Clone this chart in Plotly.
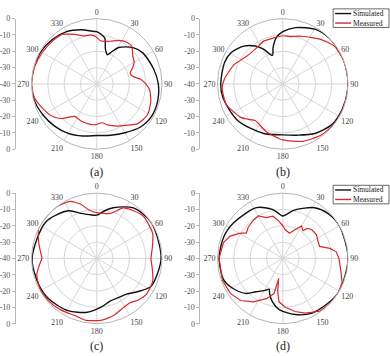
import plotly.graph_objects as go

W, H = 390, 356
FONT = "Liberation Serif"

# ---------------- data (angle in degrees, gain in dB) ----------------
a_sim_theta = [0, 5, 10, 14, 20, 24, 31, 45, 56, 75, 90, 105, 120, 135, 150, 165, 180, 195, 210, 225, 240, 255, 270, 285, 300, 315, 330, 344, 357, 360]
a_sim_r = [-8, -9.5, -11.5, -18, -21, -19, -14, -8.5, -6, -4, -2.3, -1.3, -1, -2.5, -5.5, -7.5, -8.4, -7, -5, -3.5, -2, -0.5, 0, -0.3, -0.5, -1.5, -3, -5.5, -7.8, -8]

a_mea_theta = [0, 5, 10, 18, 27, 35, 43, 52, 60, 66, 72, 78, 84, 90, 96, 108, 121, 134, 145, 155, 165, 172, 182, 192, 203, 214, 220, 226, 235, 246, 257, 270, 285, 300, 315, 325, 336, 345, 353, 357, 360]
a_mea_r = [-11.5, -13.5, -13.5, -12.5, -10, -8.6, -8.5, -12, -13.5, -16, -18.5, -17.5, -13, -10, -7.5, -5.2, -3.6, -5, -9, -11.5, -14, -16, -15, -15, -15.3, -16, -13.5, -9.5, -6, -3.6, -1, 0, -0.5, -1.5, -2.3, -3, -6.8, -9.5, -9.7, -10.5, -11.5]

b_sim_theta = [0, 13, 31, 45, 60, 75, 90, 105, 120, 130, 147, 165, 180, 201, 231, 257, 270, 290, 301, 314, 324, 331, 340, 345, 352, 360]
b_sim_r = [-8, -4.6, -1, 0, 0, 0, 0, -0.3, -0.5, -1, -3.8, -7.5, -8.8, -7.5, -4.4, -2.4, -2, -2, -3, -6.7, -11.3, -15.7, -21.4, -17, -11.4, -8]

b_mea_theta = [0, 8, 22, 41, 54, 71, 90, 108, 126, 143, 161, 180, 199, 211, 217, 225, 232, 250, 266, 275, 292, 308, 324, 336, 348, 360]
b_mea_r = [-10.5, -10.7, -8.5, -4, -0.8, 0, 0, 0, 0, -0.8, -2.8, -5.7, -9, -11.5, -12, -9.5, -7, -3.2, -2.8, -4.2, -8, -12.2, -12.7, -11.3, -11.3, -10.5]

c_sim_theta = [0, 9, 18, 36, 57, 90, 117, 127, 140, 150, 162, 175, 190, 209, 230, 246, 270, 305, 329, 341, 352, 360]
c_sim_r = [-13.5, -10.6, -7.4, -1.8, 0, -0.6, -2.6, -6.8, -11.4, -12.5, -12.6, -10, -6.5, -3.4, -1.5, -1, -0.4, -1.6, -6, -10.8, -13, -13.5]

c_mea_theta = [0, 17, 28, 47, 66, 80, 90, 100, 112, 126, 135, 143, 151, 163, 176, 190, 201, 215, 229, 242, 255, 263, 270, 278, 286, 297, 310, 323, 335, 344, 350, 360]
c_mea_r = [-12, -11.2, -5, -1.5, -2.5, -5.5, -6.8, -5.5, -3, -2.5, -4, -6, -5.8, -3.6, -2, -1.5, -2.5, -1.5, -0.6, -0.5, -2, -4.5, -6.4, -5, -3, 0, 0, 0, -1.5, -5.6, -9.6, -12]

d_sim_theta = [0, 14, 32, 45, 60, 90, 123, 152, 167.5, 184, 193.6, 200.5, 204, 208, 218.8, 226, 238.8, 250, 270, 290, 306, 332.6, 348, 355, 360]
d_sim_r = [-14, -9.4, -3.4, -1, 0, 0, 0, -2, -4.8, -8.6, -12.8, -17, -19.4, -18, -13.8, -9, -4.4, -1.5, -1, -1.5, -2.8, -5, -9.3, -12.5, -14]

d_mea_theta = [0, 5, 15, 23, 30, 36, 39, 45, 55, 64, 72, 78, 83, 90, 103, 112, 122, 135, 145, 158, 167, 177, 185, 189, 191.5, 194, 202, 214, 225, 236, 250, 270, 285, 293, 300, 305, 312, 322, 330, 338, 347, 354, 360]
d_mea_r = [-20, -22.4, -24, -21, -17, -19, -16.4, -15, -14.8, -16, -16.3, -10.5, -7, -5.6, -3.4, -0.8, 0, 0, -0.5, -3.8, -6.6, -10, -13.3, -20, -27.5, -17.8, -13.4, -7.9, -3.5, -1.4, -0.6, -1, -2.4, -5, -9.4, -12.8, -11.5, -10.5, -10, -13, -13.5, -17, -20]

panels = [
    ("(a)", a_sim_theta, a_sim_r, a_mea_theta, a_mea_r),
    ("(b)", b_sim_theta, b_sim_r, b_mea_theta, b_mea_r),
    ("(c)", c_sim_theta, c_sim_r, c_mea_theta, c_mea_r),
    ("(d)", d_sim_theta, d_sim_r, d_mea_theta, d_mea_r),
]

ang_ticks = list(range(0, 360, 30))
rad_ticks = [-30, -20, -10]
side_tickvals = [40, 30, 20, 10, 0, -10, -20, -30, -40]
side_ticktext = ["0", "-10", "-20", "-30", "-40", "-30", "-20", "-10", "0"]
legend_names = ["Simulated", "Measured"]

# ---------------- layout geometry (pixels) ----------------
centers = [(96, 82), (282.5, 82), (96, 261), (282.5, 261)]
R = 67
axis_x = [15, 200, 15, 200]
SIM_COLOR = "#111111"
MEA_COLOR = "#d8272d"
GRID = "#d6d6d6"
LEG_FS = 7.5
LEG_STEP = LEG_FS * 1.3


def px(x):
    return x / W


def py(y):
    return 1 - y / H


fig = go.Figure()
layout = dict(
    width=W, height=H, margin=dict(l=0, r=0, t=0, b=0),
    paper_bgcolor="white", plot_bgcolor="white", showlegend=False,
    font=dict(family=FONT, size=8, color="#333"),
)
annotations = []
shapes = []

for i, (lab, st, sr, mt, mr) in enumerate(panels):
    n = i + 1
    cx, cy = centers[i]
    pname = "polar" if n == 1 else f"polar{n}"
    fig.add_trace(go.Scatterpolar(theta=st, r=sr, mode="lines", subplot=pname,
                                  line=dict(color=SIM_COLOR, width=1.4, shape="spline", smoothing=0.8),
                                  name=legend_names[0], hoverinfo="skip"))
    fig.add_trace(go.Scatterpolar(theta=mt, r=mr, mode="lines", subplot=pname,
                                  line=dict(color=MEA_COLOR, width=1.2, shape="spline" if n != 4 else "linear", smoothing=0.6),
                                  name=legend_names[1], hoverinfo="skip"))
    layout[pname] = dict(
        domain=dict(x=[px(cx - R), px(cx + R)], y=[py(cy + R), py(cy - R)]),
        bgcolor="white",
        angularaxis=dict(rotation=90, direction="clockwise", tickmode="array",
                         tickvals=ang_ticks, ticktext=[str(t) for t in ang_ticks],
                         showline=True, linecolor="#b5b5b5", linewidth=1,
                         gridcolor=GRID, gridwidth=0.8, ticks="",
                         tickfont=dict(family=FONT, size=8, color="#444")),
        radialaxis=dict(range=[-40, 0], tickmode="array", tickvals=rad_ticks,
                        showticklabels=False, showline=False, ticks="",
                        gridcolor=GRID, gridwidth=0.8),
    )
    # vertical dB scale at left of each panel
    xa = "xaxis" if n == 1 else f"xaxis{n}"
    ya = "yaxis" if n == 1 else f"yaxis{n}"
    xr = "x" if n == 1 else f"x{n}"
    yr = "y" if n == 1 else f"y{n}"
    fig.add_trace(go.Scatter(x=[0.5], y=[0], xaxis=xr, yaxis=yr, mode="markers",
                             marker=dict(opacity=0), hoverinfo="skip", showlegend=False))
    layout[xa] = dict(domain=[px(axis_x[i]), px(axis_x[i] + 8)], range=[0, 1],
                      visible=False, fixedrange=True, anchor=yr)
    layout[ya] = dict(domain=[py(cy + R), py(cy - R)], range=[-40, 40], anchor=xr,
                      tickmode="array", tickvals=side_tickvals, ticktext=side_ticktext,
                      showline=True, linecolor="#b8b8b8", linewidth=1,
                      ticks="outside", ticklen=3, tickcolor="#b8b8b8",
                      showgrid=False, zeroline=False, fixedrange=True,
                      tickfont=dict(family=FONT, size=8, color="#555"))
    # panel label
    annotations.append(dict(x=px(cx), y=py(cy + 90), xref="paper", yref="paper",
                            text=lab, showarrow=False, xanchor="center", yanchor="middle",
                            font=dict(family=FONT, size=12, color="#222")))

# manual legends for panels (b) and (d): one two-line text block each
for top in (5, 186):
    y1 = top + 4.8
    y2 = y1 + LEG_STEP
    shapes.append(dict(type="rect", xref="paper", yref="paper",
                       x0=px(333), x1=px(389), y0=py(y2 + 4.5), y1=py(top),
                       line=dict(color="#444", width=0.8), fillcolor="white"))
    for yy, col in zip([y1, y2], [SIM_COLOR, MEA_COLOR]):
        shapes.append(dict(type="line", xref="paper", yref="paper",
                           x0=px(335), x1=px(351), y0=py(yy), y1=py(yy),
                           line=dict(color=col, width=1.4)))
    annotations.append(dict(x=px(351.5), y=py((y1 + y2) / 2), xref="paper", yref="paper",
                            text="<br>".join(legend_names), showarrow=False, align="left",
                            xanchor="left", yanchor="middle", borderpad=0,
                            font=dict(family=FONT, size=LEG_FS, color="#222")))

layout["annotations"] = annotations
layout["shapes"] = shapes
fig.update_layout(**layout)
fig.write_html("out.html")
